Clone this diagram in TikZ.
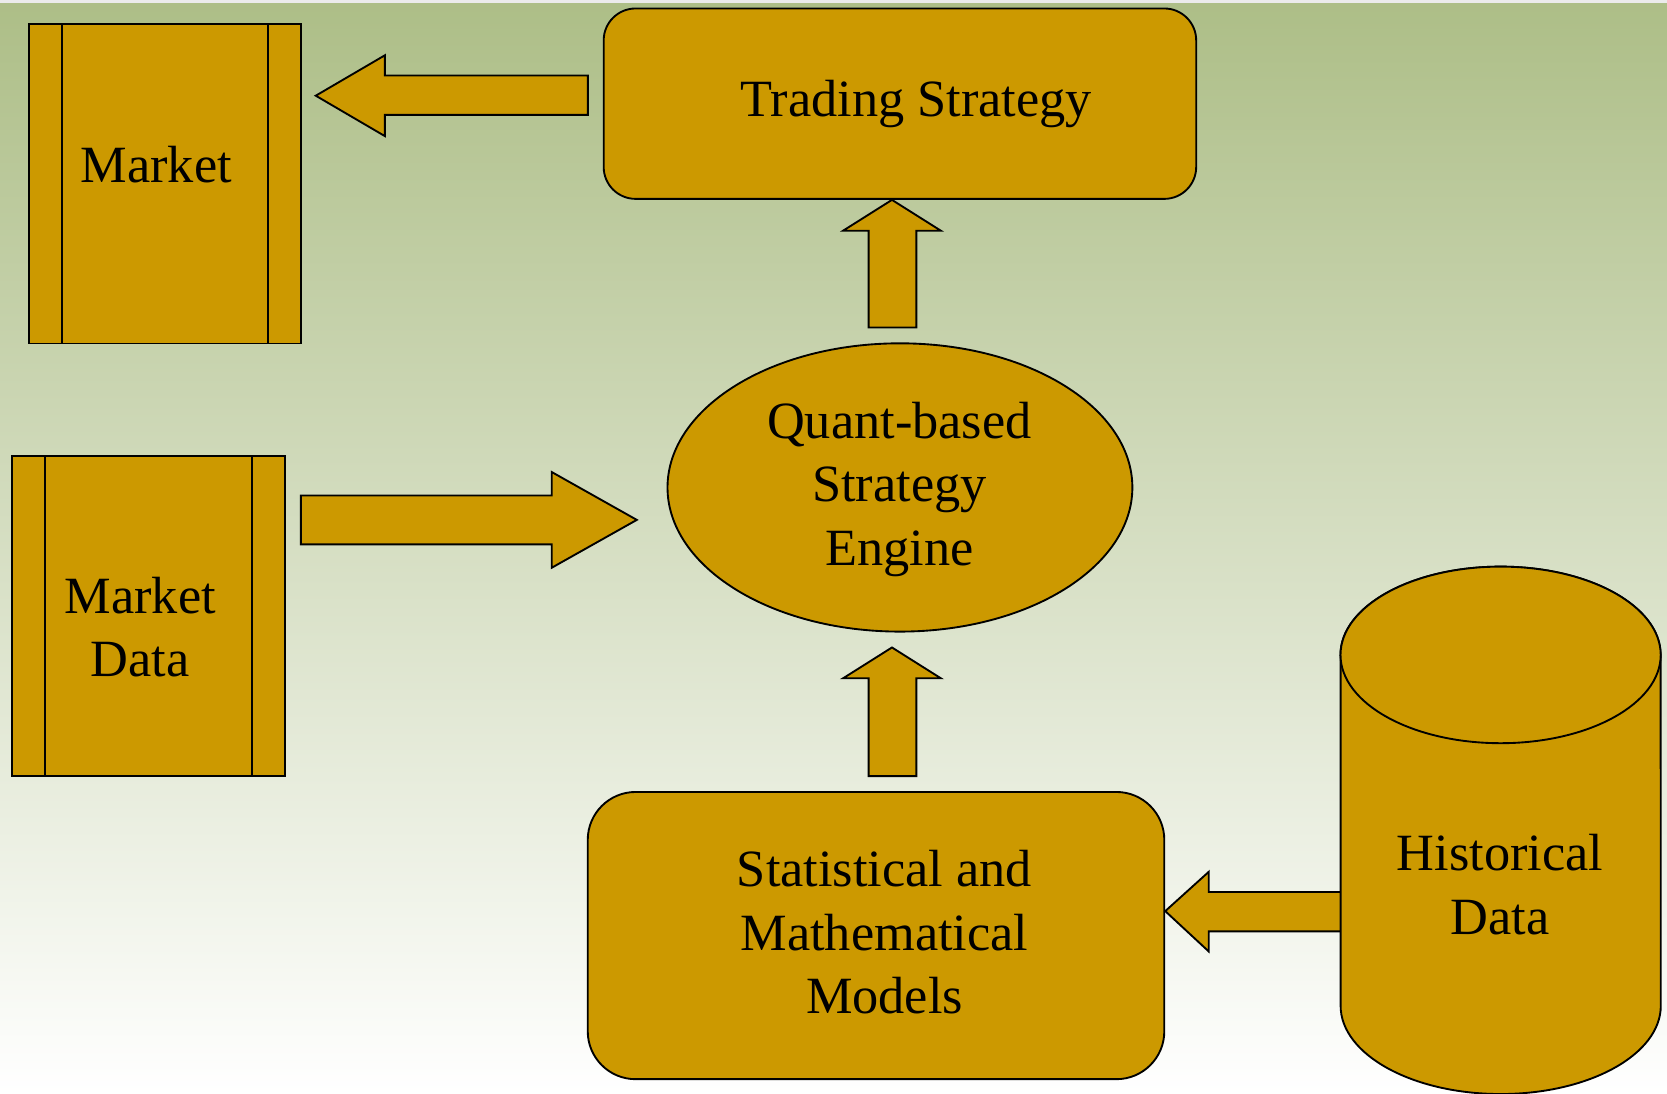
\documentclass[tikz,border=0pt]{standalone}
\usepackage{fontspec}
\setmainfont{Liberation Serif}
\usetikzlibrary{shapes.geometric}
\definecolor{boxfill}{RGB}{204,153,0}
\definecolor{bgtop}{RGB}{173,190,135}
\begin{document}
\begin{tikzpicture}[x=0.01cm,y=-0.01cm,
  shapebox/.style={draw=black,fill=boxfill,line width=0.5pt},
  blockarrow/.style={draw=black,fill=boxfill,line width=0.5pt,line join=miter},
  txt/.style={font=\fontsize{14}{17}\selectfont,align=center,inner sep=0pt,text=black}]

% canvas and backdrop
\useasboundingbox (0,0) rectangle (1568,1029);
\shade[top color=bgtop,bottom color=white] (0,3) rectangle (1568,1029);
\fill[black!8] (0,0) rectangle (1568,3);

% Market (bar box)
\node[shapebox,rectangle,minimum width=2.56cm,minimum height=3cm,inner sep=0pt] (market) at (155,173) {};
\draw[line width=0.5pt] ([xshift=0.32cm]market.north west) -- ([xshift=0.32cm]market.south west);
\draw[line width=0.5pt] ([xshift=-0.32cm]market.north east) -- ([xshift=-0.32cm]market.south east);
\node[txt] (marketlbl) at (147,155) {Market};

% Market Data (bar box)
\node[shapebox,rectangle,minimum width=2.57cm,minimum height=3.01cm,inner sep=0pt] (mdata) at (139.5,579.5) {};
\draw[line width=0.5pt] ([xshift=0.32cm]mdata.north west) -- ([xshift=0.32cm]mdata.south west);
\draw[line width=0.5pt] ([xshift=-0.32cm]mdata.north east) -- ([xshift=-0.32cm]mdata.south east);
\node[txt] (mdatalbl) at (132,590) {Market\\Data};

% Trading Strategy
\node[shapebox,rectangle,rounded corners=0.3cm,minimum width=5.57cm,minimum height=1.79cm,inner sep=0pt] (trading) at (846.5,97.5) {};
\node[txt] (tradinglbl) at (862,98) {Trading Strategy};

% Strategy engine
\node[shapebox,ellipse,minimum width=4.37cm,minimum height=2.71cm,inner sep=0pt] (engine) at (846.5,458.5) {};
\node[txt] (enginelbl) at (846,460) {Quant-based\\Strategy\\Engine};

% Statistical and Mathematical Models
\node[shapebox,rectangle,rounded corners=0.45cm,minimum width=5.42cm,minimum height=2.7cm,inner sep=0pt] (stats) at (824,880) {};
\node[txt] (statslbl) at (832,877) {Statistical and\\Mathematical\\Models};

% block arrows
\draw[blockarrow] (297,90) -- (362,52) -- (362,71) -- (553,71) -- (553,108) -- (362,108) -- (362,128) -- cycle;
\draw[blockarrow] (839,188) -- (885,217) -- (862,217) -- (862,308) -- (817,308) -- (817,217) -- (793,217) -- cycle;
\draw[blockarrow] (599,489) -- (519,534) -- (519,512) -- (283,512) -- (283,466) -- (519,466) -- (519,444) -- cycle;
\draw[blockarrow] (839,609) -- (885,638) -- (862,638) -- (862,730) -- (817,730) -- (817,638) -- (793,638) -- cycle;
\draw[blockarrow] (stats.east |- 0,857) -- (1137,820) -- (1137,839) -- (1265,839) -- (1265,876) -- (1137,876) -- (1137,895) -- cycle;

% Historical Data (cylinder)
\coordinate (hist) at (1411.5,780);
\draw[shapebox] (1261,616) -- (1261,946)
  arc[start angle=180,end angle=360,x radius=1.505cm,y radius=0.83cm]
  -- (1562,616)
  arc[start angle=0,end angle=180,x radius=1.505cm,y radius=0.83cm] -- cycle;
\draw[shapebox] (1411.5,616) ellipse [x radius=1.505cm,y radius=0.83cm];
\node[txt] (histlbl) at (1411,832) {Historical\\Data};

\end{tikzpicture}
\end{document}
